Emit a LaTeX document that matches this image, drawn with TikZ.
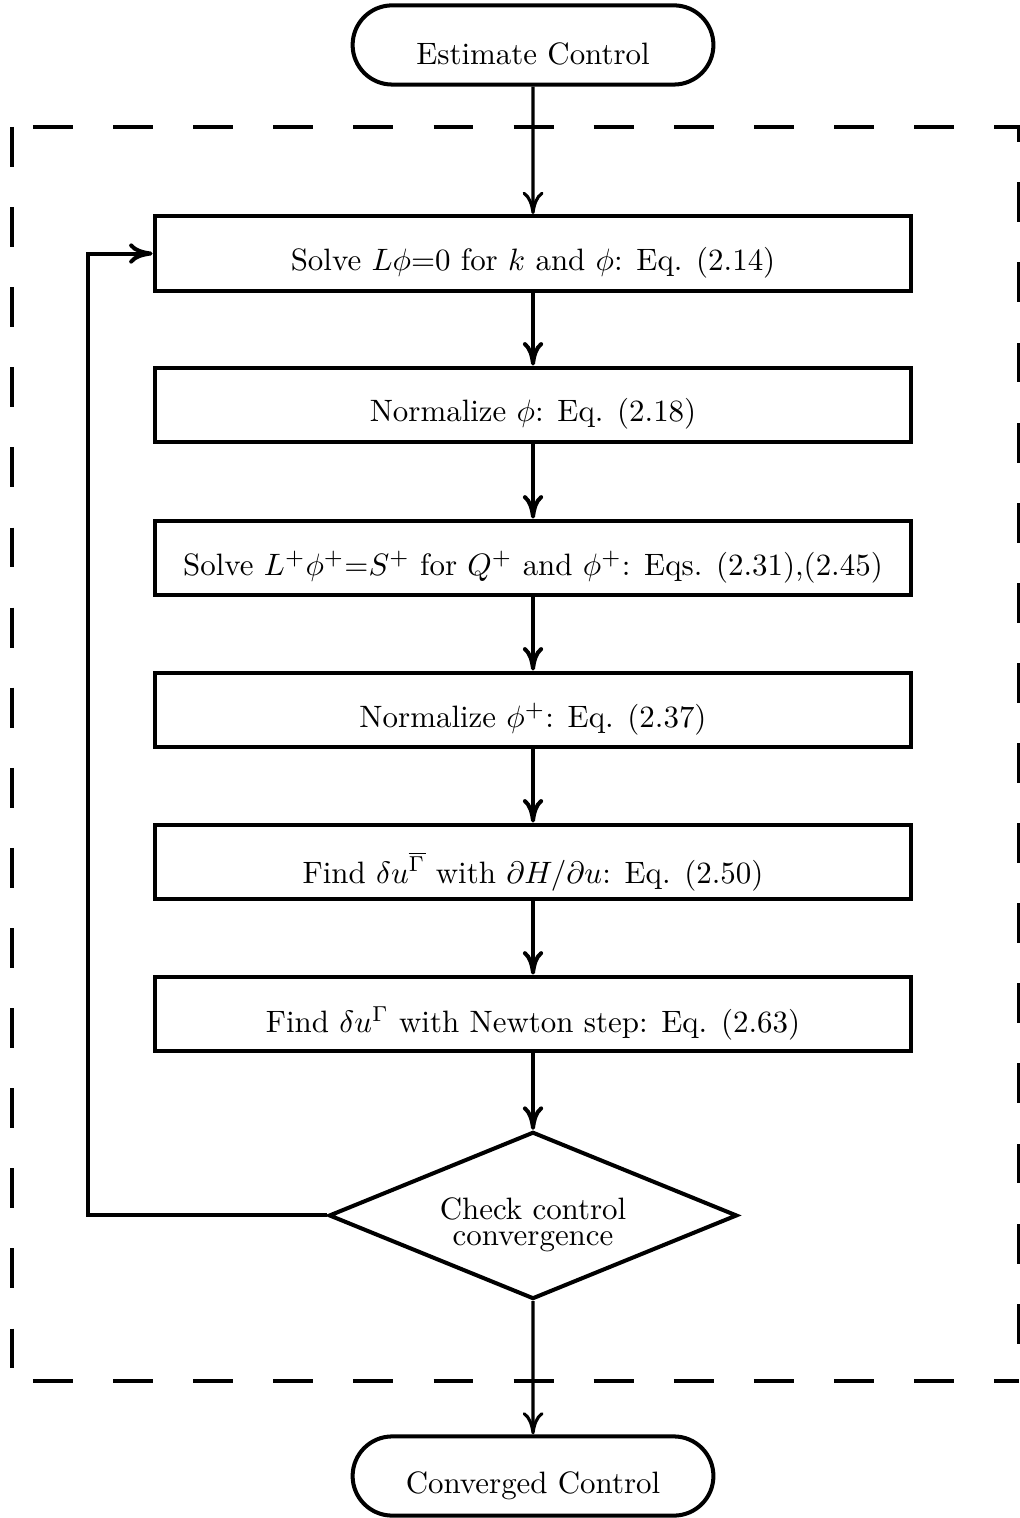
\documentclass[tikz,border=0pt]{standalone}
\usepackage{amsmath}
\usepackage{amssymb}
\usetikzlibrary{shapes.geometric,shapes.misc,arrows.meta}

\newcommand{\lowtext}[1]{\raisebox{-3pt}[\height][\depth]{#1}}

\begin{document}
\begin{tikzpicture}[
      box/.style = {rectangle, draw, line width = 1.3pt, minimum width = 8.6cm, minimum height = 0.85cm, inner sep = 0pt},
      term/.style = {rounded rectangle, draw, line width = 1.3pt, minimum width = 4.1cm, minimum height = 0.9cm, inner sep = 0pt},
      check/.style = {diamond, draw, line width = 1.3pt, aspect = 2.45, minimum width = 4.64cm, minimum height = 1.9cm, inner sep = 0pt},
      dashbox/.style = {line width = 1.3pt, dash pattern = on 12.9pt off 13pt},
      flow/.style = {-{To[scale length = 1.7, scale width = 0.7]}, line width = 1.3pt},
      thinflow/.style = {-{To[scale length = 1.9, scale width = 0.85]}, line width = 1pt}
    ]
      \useasboundingbox (0, 0) rectangle (11.58, 17.25);
      \draw[dashbox] (0.136, 15.807) -- (0.136, 1.557);
      \draw[dashbox, dash phase = 19.1pt] (0.136, 1.557) -- (11.58, 1.557);
      \draw[dashbox, dash phase = 19.1pt] (0.136, 15.807) -- (11.58, 15.807) -- (11.58, 1.557);
      \node [term] (est) at (6.057, 16.739) {\lowtext{Estimate Control}};
      \node [box] (solve) at (6.057, 14.369) {\lowtext{Solve $L\phi$=0 for $k$ and $\phi$: Eq. (2.14)}};
      \node [box] (norm) at (6.057, 12.648) {\lowtext{Normalize $\phi$: Eq. (2.18)}};
      \node [box] (adj) at (6.057, 10.909) {\lowtext{Solve $L^+\phi^+$=$S^+$ for $Q^+$ and $\phi^+$: Eqs. (2.31),(2.45)}};
      \node [box] (normadj) at (6.057, 9.182) {\lowtext{Normalize $\phi^+$: Eq. (2.37)}};
      \node [box] (grad) at (6.057, 7.455) {\lowtext{Find $\delta u^{\overline{\Gamma}}$ with $\partial H/\partial u$: Eq. (2.50)}};
      \node [box] (newton) at (6.057, 5.727) {\lowtext{Find $\delta u^{\Gamma}$ with Newton step: Eq. (2.63)}};
      \node [check] (conv) at (6.057, 3.438) {\lowtext{\begin{tabular}{@{}c@{}}Check control\\[-3.5pt]convergence\end{tabular}}};
      \node [term] (done) at (6.057, 0.477) {\lowtext{Converged Control}};
      \coordinate (loop) at (1.0, 3.438);
      \draw[thinflow] (est) -- (solve);
      \draw[flow] (solve) -- (norm);
      \draw[flow] (norm) -- (adj);
      \draw[flow] (adj) -- (normadj);
      \draw[flow] (normadj) -- (grad);
      \draw[flow] (grad) -- (newton);
      \draw[flow] (newton) -- (conv);
      \draw[flow] (conv.west) -- (loop) |- (solve.west);
      \draw[thinflow] (conv) -- (done);
    \end{tikzpicture}
\end{document}
